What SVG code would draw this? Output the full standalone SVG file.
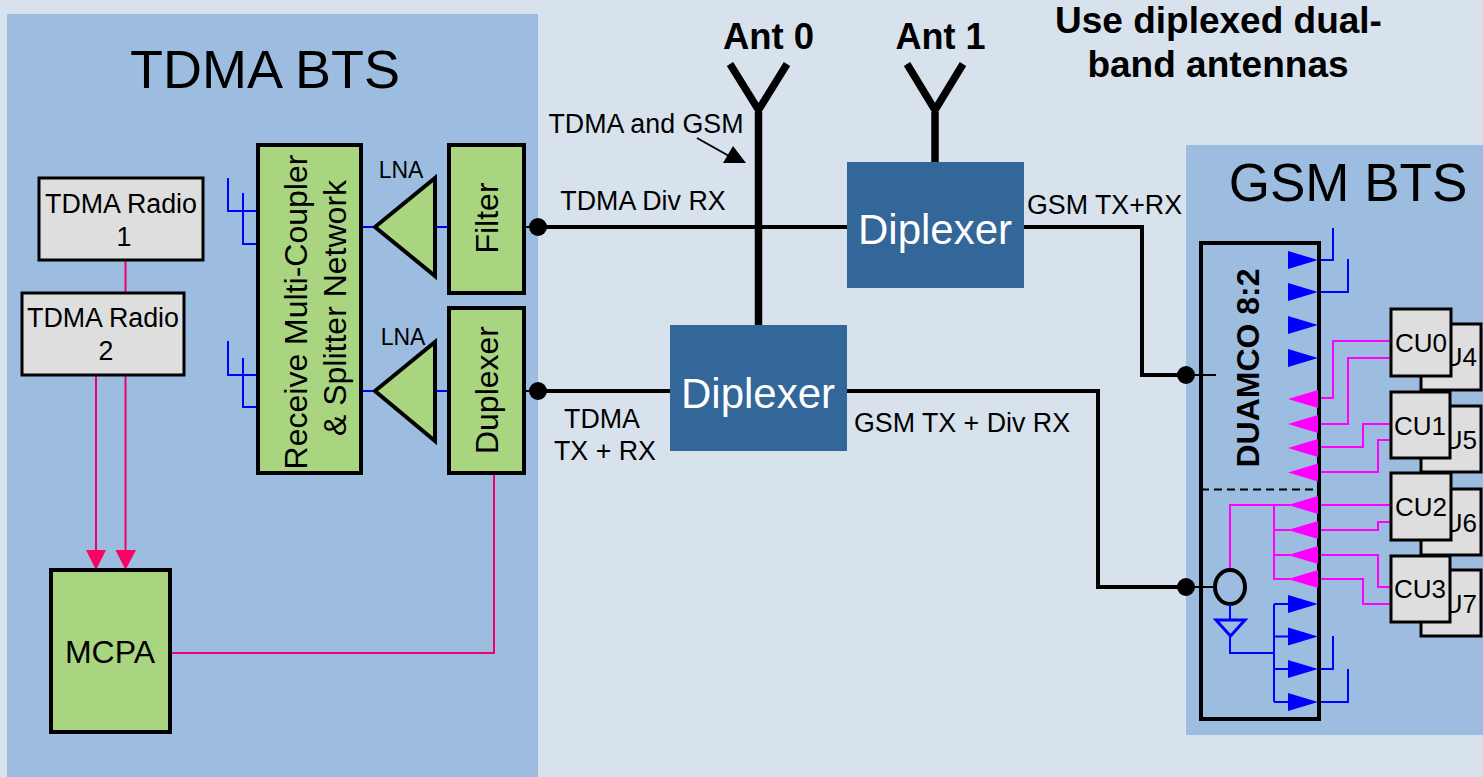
<svg xmlns="http://www.w3.org/2000/svg" width="1483" height="777" viewBox="0 0 1483 777">
<style>
text{font-family:"Liberation Sans",Arial,sans-serif;fill:#000;text-anchor:middle}
.bd{font-weight:bold}
.box{stroke:#000;stroke-width:4}
.thin{stroke:#000;stroke-width:3}
.gr{fill:#aad580}
.gy{fill:#dedede}
.dp{fill:#336699}
.k{stroke:#000;stroke-width:4;fill:none}
.kt{stroke:#000;stroke-width:2;fill:none}
.b{stroke:#0000ff;stroke-width:2;fill:none}
.m{stroke:#ff00ff;stroke-width:2;fill:none}
.p{stroke:#f0006e;stroke-width:2;fill:none}
.mast{stroke:#000;stroke-width:7.500;fill:none}
.dot{fill:#000}
.tb{fill:#0000ff}
.tm{fill:#ff00ff}
</style>
<rect width="1483" height="777" fill="#d8e2ed"/>
<g id="tdma-bts"><rect x="7" y="14" width="531" height="763" fill="#9dbde0"/><text x="265" y="88" font-size="54">TDMA BTS</text></g>
<g id="gsm-bts"><rect x="1186" y="145" width="297" height="590" fill="#9dbde0"/><text x="1348" y="201" font-size="53">GSM BTS</text></g>
<g id="connectors">
<path class="p" d="M125.500 260V293M96 375V552M125.500 375V552M170 653H494V473"/>
<path d="M86 550H106L96 570ZM115.500 550H136L125.500 570Z" fill="#ff0066"/>
<path class="b" d="M257 211H228V178M257 244H243V193M257 375H228V341M257 407H243V358M361 227H375M435 227H449M361 391H375M435 391H449"/>
<path class="kt" d="M524 227H538M524 391H538M1186 375H1216M1186 587H1215"/>
<path class="k" d="M538 227H847M538 391H670M847 391H1098V587H1186M1024 227H1142V375H1186"/>
<path class="mast" d="M758.500 112V325M730 64L758.500 110L787 64M935 112V162M907 64L935 110L963 64"/>
<path class="kt" d="M697 138L729 156"/>
<path class="dot" d="M723 163H746L733 146Z"/>
<path class="b" d="M1319 260H1333V228M1319 292H1348V259M1319 669H1333V636M1319 702H1348V669"/>
<path class="m" d="M1319 398H1333V341H1391M1319 424H1348V358H1391M1319 447H1363V424H1391M1319 472H1378V440H1391M1319 505H1391M1319 530H1378V522H1391M1319 555H1378V587H1391M1319 579H1363V604H1391"/>
<circle class="dot" cx="538" cy="227" r="9"/><circle class="dot" cx="538" cy="391" r="9"/>
<circle class="dot" cx="1186" cy="375" r="9"/><circle class="dot" cx="1186" cy="587" r="9"/>
</g>
<g id="radio1"><rect class="thin gy" x="39" y="178" width="164" height="82"/><text x="121" y="213" font-size="26.800">TDMA Radio</text><text x="124" y="246" font-size="26.800">1</text></g>
<g id="radio2"><rect class="thin gy" x="22" y="293" width="162" height="82"/><text x="103" y="327" font-size="26.800">TDMA Radio</text><text x="106" y="360" font-size="26.800">2</text></g>
<g id="mcpa"><rect class="box gr" x="51" y="570" width="119" height="162"/><text x="110" y="663" font-size="32">MCPA</text></g>
<g id="receive"><rect class="box gr" x="258" y="145" width="103" height="328"/><text transform="translate(307 312) rotate(-90)" font-size="32">Receive Multi-Coupler</text><text transform="translate(346 308) rotate(-90)" font-size="32">&amp; Splitter Network</text></g>
<g id="lna0"><path class="box gr" d="M375 227L435 178V276Z"/><text x="401" y="178" font-size="23">LNA</text></g>
<g id="lna1"><path class="box gr" d="M375 391L435 342V441Z"/><text x="403" y="345" font-size="23">LNA</text></g>
<g id="filter"><rect class="box gr" x="449" y="145" width="75" height="148"/><text transform="translate(498 218) rotate(-90)" font-size="32">Filter</text></g>
<g id="duplexer"><rect class="box gr" x="449" y="308" width="75" height="165"/><text transform="translate(498 390) rotate(-90)" font-size="32">Duplexer</text></g>
<g id="ant0"><text class="bd" x="768.500" y="49" font-size="36.500">Ant 0</text></g>
<g id="ant1"><text class="bd" x="940.500" y="49" font-size="36">Ant 1</text></g>
<g id="diplexer1"><rect class="dp" x="847" y="162" width="177" height="126"/><text style="fill:#fff" x="935" y="244" font-size="42">Diplexer</text></g>
<g id="diplexer0"><rect class="dp" x="670" y="325" width="177" height="126"/><text style="fill:#fff" x="758" y="408" font-size="42">Diplexer</text></g>
<g id="labels">
<text class="bd" x="1218.500" y="33" font-size="37">Use diplexed dual-</text>
<text class="bd" x="1218" y="77" font-size="37">band antennas</text>
<text x="646" y="133" font-size="26.800">TDMA and GSM</text>
<text x="643" y="210" font-size="26.800">TDMA Div RX</text>
<text x="602" y="428" font-size="26.800">TDMA</text>
<text x="605" y="460" font-size="26.800">TX + RX</text>
<text x="1104.500" y="214" font-size="26.800">GSM TX+RX</text>
<text x="962" y="432" font-size="26.800">GSM TX + Div RX</text>
</g>
<g id="duamco">
<rect x="1201" y="243" width="118" height="476" fill="none" stroke="#000" stroke-width="4"/>
<path class="kt" d="M1201 489.500H1319" stroke-dasharray="8 5"/>
<text class="bd" transform="translate(1259 368) rotate(-90)" font-size="32">DUAMCO 8:2</text>
<path class="tb" d="M1288 251L1318 260L1288 269ZM1288 283L1318 292L1288 301ZM1288 316L1318 325L1288 334ZM1288 349L1318 358L1288 367ZM1288 595L1318 604L1288 613ZM1288 627.500L1318 636.500L1288 645.500ZM1288 660L1318 669L1288 678ZM1288 693L1318 702L1288 711Z"/>
<path class="m" d="M1230 570V505H1290M1274 505V579H1290M1274 530H1290M1274 555H1290"/>
<path class="tm" d="M1288 399L1318 390V408ZM1288 424L1318 415V433ZM1288 448L1318 439V457ZM1288 472.500L1318 463.500V481.500ZM1288 505L1318 496V514ZM1288 530L1318 521V539ZM1288 555L1318 546V564ZM1288 579L1318 570V588Z"/>
<ellipse cx="1230" cy="587" rx="15" ry="17" fill="none" stroke="#000" stroke-width="4"/>
<path class="b" d="M1230 604V620M1230 637V653H1274M1274 604V702M1274 604H1290M1274 636.500H1290M1274 669H1290M1274 702H1290"/>
<path d="M1216 620H1245L1230.500 636Z" fill="none" stroke="#0000ff" stroke-width="3"/>
</g>
<g id="cu4"><rect class="thin gy" x="1421" y="324" width="60" height="66"/><text x="1451" y="366" font-size="26">CU4</text></g>
<g id="cu5"><rect class="thin gy" x="1421" y="406" width="60" height="66"/><text x="1451" y="449" font-size="26">CU5</text></g>
<g id="cu6"><rect class="thin gy" x="1421" y="489" width="60" height="66"/><text x="1451" y="532" font-size="26">CU6</text></g>
<g id="cu7"><rect class="thin gy" x="1421" y="570" width="60" height="66"/><text x="1451" y="613" font-size="26">CU7</text></g>
<g id="cu0"><rect class="thin gy" x="1391" y="309" width="60" height="67"/><text x="1421" y="352" font-size="26">CU0</text></g>
<g id="cu1"><rect class="thin gy" x="1391" y="392" width="59" height="66"/><text x="1420" y="435" font-size="26">CU1</text></g>
<g id="cu2"><rect class="thin gy" x="1391" y="473" width="60" height="67"/><text x="1421" y="516" font-size="26">CU2</text></g>
<g id="cu3"><rect class="thin gy" x="1391" y="556" width="59" height="66"/><text x="1420" y="598" font-size="26">CU3</text></g>
</svg>
